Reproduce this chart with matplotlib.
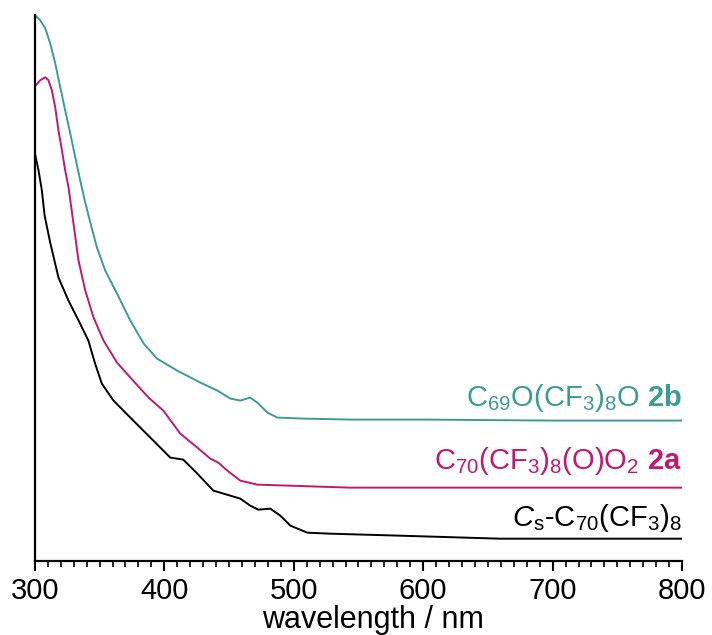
import numpy as np
import matplotlib
matplotlib.use("Agg")
import matplotlib.pyplot as plt
from matplotlib.ticker import MultipleLocator

plt.rcParams["font.family"] = ["Liberation Sans", "DejaVu Sans"]
plt.rcParams["mathtext.fontset"] = "custom"
plt.rcParams["mathtext.rm"] = "Liberation Sans"
plt.rcParams["mathtext.it"] = "Liberation Sans:italic"
plt.rcParams["mathtext.bf"] = "Liberation Sans:bold"

# spectra (wavelength in nm, absorbance in arbitrary offset units)
wl_2b = [300, 304.1, 308.0, 311.8, 315.7, 319.6, 323.4, 327.3, 331.2, 335.0, 338.5,
         342.8, 347.9, 354.3, 363.4, 373.7, 384.0, 394.3, 409.8, 427.8, 440.9, 451.0,
         458.7, 466.4, 471.8, 479.6, 487.3, 507.4, 543.7, 600, 700, 800]
abs_2b = [5.45, 5.40, 5.32, 5.17, 4.97, 4.73, 4.50, 4.27, 4.03, 3.80, 3.60,
          3.38, 3.13, 2.90, 2.67, 2.40, 2.17, 2.02, 1.90, 1.78, 1.70, 1.62,
          1.60, 1.63, 1.58, 1.48, 1.43, 1.42, 1.41, 1.41, 1.40, 1.40]

wl_2a = [300, 304.1, 308.0, 310.5, 313.1, 315.7, 318.2, 320.9, 323.4, 326.0, 329.8,
         333.7, 338.9, 345.3, 353.0, 363.4, 373.7, 387.8, 399.2, 412.3, 425.5, 435.5,
         441.7, 448.7, 458.7, 471.8, 543.7, 650, 800]
abs_2a = [4.74, 4.80, 4.83, 4.80, 4.70, 4.53, 4.30, 4.10, 3.90, 3.73, 3.37,
          3.00, 2.70, 2.43, 2.20, 1.98, 1.83, 1.63, 1.50, 1.27, 1.13, 1.02,
          0.98, 0.90, 0.80, 0.76, 0.73, 0.73, 0.73]

wl_cs = [300, 302.8, 305.4, 307.5, 311.8, 318.2, 325.9, 334.9, 341.3, 346.5, 351.7,
         360.7, 373.7, 389.2, 404.6, 414.6, 425.5, 437.9, 451.0, 458.7, 466.4, 472.6,
         481.9, 489.6, 497.4, 510.5, 528.3, 582.4, 659.7, 800]
abs_cs = [4.07, 3.90, 3.70, 3.45, 3.18, 2.83, 2.60, 2.37, 2.20, 1.97, 1.77,
          1.60, 1.43, 1.23, 1.03, 1.01, 0.87, 0.70, 0.65, 0.62, 0.55, 0.51,
          0.52, 0.45, 0.35, 0.28, 0.27, 0.25, 0.22, 0.22]

teal = "#3b9c96"
magenta = "#c2186f"

fig = plt.figure(figsize=(7.12, 6.35), dpi=100)
ax = fig.add_axes([0.049, 0.117, 0.909, 0.859])

ax.plot(wl_2b, abs_2b, color=teal, lw=1.4)
ax.plot(wl_2a, abs_2a, color=magenta, lw=1.4)
ax.plot(wl_cs, abs_cs, color="black", lw=1.4)

ax.set_xlim(300, 800)
ax.set_ylim(0, 5.45)

ax.spines["top"].set_visible(False)
ax.spines["right"].set_visible(False)
ax.spines["left"].set_linewidth(1.6)
ax.spines["bottom"].set_linewidth(1.6)
ax.set_yticks([])
ax.xaxis.set_major_locator(MultipleLocator(100))
ax.xaxis.set_minor_locator(MultipleLocator(10))
ax.tick_params(axis="x", which="major", direction="out", length=7, width=1.5,
               labelsize=21, pad=5)
ax.tick_params(axis="x", which="minor", direction="out", length=4, width=1.2)

ax.set_xlabel("wavelength / nm", fontsize=22, labelpad=0)
ax.xaxis.set_label_coords(0.522, -0.082)

# curve labels
ax.text(800, 1.55, r"C$_{69}$O(CF$_3$)$_8$O $\mathbf{2b}$", color=teal,
        fontsize=21, ha="right", va="baseline")
ax.text(800, 0.92, r"C$_{70}$(CF$_3$)$_8$(O)O$_2$ $\mathbf{2a}$", color=magenta,
        fontsize=21, ha="right", va="baseline")
ax.text(800, 0.35, r"$C_\mathrm{s}$-C$_{70}$(CF$_3$)$_8$", color="black",
        fontsize=21, ha="right", va="baseline")

fig.savefig("out.png", dpi=100)
